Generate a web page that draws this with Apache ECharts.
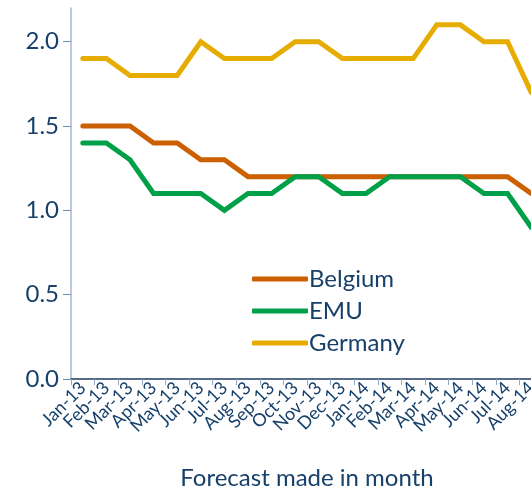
<!DOCTYPE html>
<html>
<head>
<meta charset="utf-8">
<script src="https://cdn.jsdelivr.net/npm/echarts@6/dist/echarts.min.js"></script>
<style>
    html, body { margin: 0; padding: 0; background: #fff; }
    #chart { width: 531px; height: 491px; }
</style>
</head>
<body>
<div id="chart"></div>
<script>
// forecast months
var months = ["Jan-13", "Feb-13", "Mar-13", "Apr-13", "May-13", "Jun-13", "Jul-13", "Aug-13", "Sep-13", "Oct-13",
    "Nov-13", "Dec-13", "Jan-14", "Feb-14", "Mar-14", "Apr-14", "May-14", "Jun-14", "Jul-14", "Aug-14"];
var belgium = [1.5, 1.5, 1.5, 1.4, 1.4, 1.3, 1.3, 1.2, 1.2, 1.2, 1.2, 1.2, 1.2, 1.2, 1.2, 1.2, 1.2, 1.2, 1.2, 1.1];
var emu = [1.4, 1.4, 1.3, 1.1, 1.1, 1.1, 1.0, 1.1, 1.1, 1.2, 1.2, 1.1, 1.1, 1.2, 1.2, 1.2, 1.2, 1.1, 1.1, 0.9];
var germany = [1.9, 1.9, 1.8, 1.8, 1.8, 2.0, 1.9, 1.9, 1.9, 2.0, 2.0, 1.9, 1.9, 1.9, 1.9, 2.1, 2.1, 2.0, 2.0, 1.7];

var textColor = "#17406b";
var font = "Lato";

var chartInstance = echarts.init(document.getElementById("chart"));

function line(name, data, color) {
    return {
        name: name,
        type: "line",
        data: data,
        symbol: "none",
        lineStyle: {width: 5, color: color, cap: "round", join: "miter"},
        itemStyle: {color: color}
    };
}

var option = {
    animation: false,
    textStyle: {fontFamily: font},
    // plot runs past the right edge, Aug-14 sits on the border
    grid: {left: 71, width: 472, top: 8, bottom: 112, outerBoundsMode: "none", containLabel: false},
    legend: {
        orient: "vertical",
        left: 247,
        top: 262,
        itemWidth: 56,
        itemHeight: 5,
        itemGap: 8,
        icon: "roundRect",
        textStyle: {fontSize: 24, color: textColor, fontFamily: font, padding: [0, 0, 0, -4]},
        data: ["Belgium", "EMU", "Germany"]
    },
    xAxis: {
        type: "category",
        data: months,
        boundaryGap: true,
        name: "Forecast made in month",
        nameLocation: "middle",
        nameGap: 87,
        nameTextStyle: {fontSize: 24, color: textColor, fontFamily: font},
        axisLine: {lineStyle: {color: "#1f3b64", width: 1.5}},
        axisTick: {show: true, length: 6, lineStyle: {color: "#8fa6c2"}},
        axisLabel: {rotate: 45, fontSize: 18, color: textColor, margin: 6, interval: 0}
    },
    yAxis: {
        type: "value",
        min: 0,
        max: 2.2,
        interval: 0.5,
        splitLine: {show: false},
        axisLine: {show: true, lineStyle: {color: "#a7b8cf", width: 1.5}},
        axisTick: {show: true, length: 8, lineStyle: {color: "#6f8db0"}},
        axisLabel: {
            fontSize: 24, color: textColor, margin: 12, showMaxLabel: false,
            formatter: function (v) { return v.toFixed(1); }
        }
    },
    series: [
        line("Belgium", belgium, "#cc5f00"),
        line("EMU", emu, "#00a049"),
        line("Germany", germany, "#e6ad00")
    ]
};
chartInstance.setOption(option);
</script>
</body>
</html>
